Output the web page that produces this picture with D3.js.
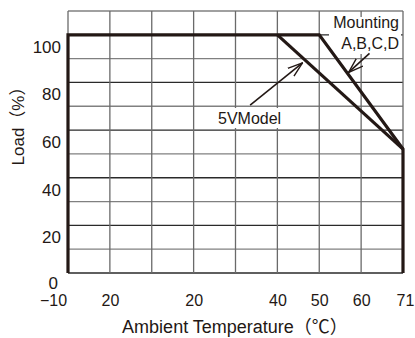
<!DOCTYPE html>
<html>
<head>
<meta charset="utf-8">
<script src="https://cdn.jsdelivr.net/npm/d3@7"></script>
<style>
  body { margin: 0; background: #fff; }
  svg { display: block; font-family: "Liberation Sans", Arial, "Noto Sans CJK JP", sans-serif; }
  text { fill: #231815; }
</style>
</head>
<body>
<div id="chart"></div>
<script>
// column labels of the temperature axis (the sheet prints them like this)
var xLabels = ["\u221210", "20", "", "20", "", "40", "50", "60", "71"];
var yLabels = [0, 20, 40, 60, 80, 100];
var yGrid = [0, 10, 20, 30, 40, 50, 60, 70, 80, 90, 100, 110];

// derating curves : column index and load (%)
var mountCols = [0, 0, 6, 8, 8];
var mountLoad = [0, 100, 100, 52, 0];
var v5Cols = [5, 8];
var v5Load = [100, 52];

var W = 415, H = 338;
var margin = {top: 11, right: 12, bottom: 65, left: 68};
var width = W - margin.left - margin.right;
var height = H - margin.top - margin.bottom;
var ink = "#231815";

var svg = d3.select("#chart").append("svg")
    .attr("width", W)
    .attr("height", H);

var g = svg.append("g")
    .attr("transform", "translate(" + margin.left + "," + margin.top + ")");

var x = d3.scalePoint()
    .domain(d3.range(xLabels.length))
    .range([0, width]);

var y = d3.scaleLinear()
    .domain([0, 110])
    .range([height, 0]);

// grid
g.selectAll(".hgrid").data(yGrid)
  .enter().append("line")
    .attr("class", "hgrid")
    .attr("x1", 0).attr("x2", width)
    .attr("y1", d => y(d)).attr("y2", d => y(d))
    .attr("stroke", d => (d % 20 == 0 ? "#2a2a2a" : "#808080"))
    .attr("stroke-width", 1.3);

g.selectAll(".vgrid").data(x.domain())
  .enter().append("line")
    .attr("class", "vgrid")
    .attr("x1", d => x(d)).attr("x2", d => x(d))
    .attr("y1", 0).attr("y2", height)
    .attr("stroke", "#6a6a6a")
    .attr("stroke-width", 1.3);

// axes (labels only)
var yAxis = d3.axisLeft(y).tickValues(yLabels).tickSize(0).tickPadding(7);
var yAxisG = g.append("g").call(yAxis);
yAxisG.select(".domain").remove();
yAxisG.selectAll("text")
    .attr("y", d => (d == 0 ? 10 : 12))
    .attr("x", d => (d == 0 ? -10 : -7))
    .style("font-size", "17px")
    .style("font-family", "inherit")
    .attr("fill", ink);

var xAxis = d3.axisBottom(x).tickFormat(i => xLabels[i]).tickSize(0).tickPadding(22);
var xAxisG = g.append("g")
    .attr("transform", "translate(0," + height + ")")
    .call(xAxis);
xAxisG.select(".domain").remove();
xAxisG.selectAll("text")
    .style("font-size", "16px")
    .style("font-family", "inherit")
    .attr("fill", ink)
    .attr("dx", (d, i) => (i == 0 ? -15 : (i == xLabels.length - 1 ? 2 : 0)));

// white boxes behind the notes
g.append("rect")
    .attr("x", 261).attr("y", 6)
    .attr("width", 72).attr("height", 37)
    .attr("fill", "#fff");
g.append("rect")
    .attr("x", 147).attr("y", 97)
    .attr("width", 71).attr("height", 20)
    .attr("fill", "#fff");

// curves
var line = d3.line()
    .x(d => x(d[0]))
    .y(d => y(d[1]));

g.append("path")
    .datum(d3.zip(mountCols, mountLoad))
    .attr("d", line)
    .attr("fill", "none")
    .attr("stroke", ink)
    .attr("stroke-width", 3.2)
    .attr("stroke-linejoin", "miter");

g.append("path")
    .datum(d3.zip(v5Cols, v5Load))
    .attr("d", line)
    .attr("fill", "none")
    .attr("stroke", ink)
    .attr("stroke-width", 3.2);

// arrow head
svg.append("defs").append("marker")
    .attr("id", "head")
    .attr("viewBox", "0 -6 16 12")
    .attr("refX", 15).attr("refY", 0)
    .attr("markerWidth", 16).attr("markerHeight", 12)
    .attr("markerUnits", "userSpaceOnUse")
    .attr("orient", "auto")
  .append("path")
    .attr("d", "M0,-5L15,0L0,5")
    .attr("fill", "none")
    .attr("stroke", ink)
    .attr("stroke-width", 1.4);

var arrows = [
  {from: [4.35, 70.5], to: [5.6, 88.2]},
  {from: [7.2, 92.2], to: [6.7, 84.2]}
];
g.selectAll(".arrow").data(arrows)
  .enter().append("line")
    .attr("class", "arrow")
    .attr("x1", d => x(0) + d.from[0] * x.step())
    .attr("y1", d => y(d.from[1]))
    .attr("x2", d => x(0) + d.to[0] * x.step())
    .attr("y2", d => y(d.to[1]))
    .attr("stroke", ink)
    .attr("stroke-width", 1.6)
    .attr("marker-end", "url(#head)");

// notes
g.append("text")
    .attr("x", 331).attr("y", 17)
    .attr("text-anchor", "end")
    .style("font-size", "16px")
    .text("Mounting");
g.append("text")
    .attr("x", 331).attr("y", 38)
    .attr("text-anchor", "end")
    .style("font-size", "16px")
    .text("A,B,C,D");
g.append("text")
    .attr("x", 150).attr("y", 113)
    .style("font-size", "16px")
    .text("5VModel");

// axis titles
svg.append("text")
    .attr("transform", "translate(24,122) rotate(-90)")
    .attr("text-anchor", "middle")
    .style("font-size", "17px")
    .text("Load\uFF08%\uFF09");

svg.append("text")
    .attr("x", 235).attr("y", 333)
    .attr("text-anchor", "middle")
    .style("font-size", "18px")
    .text("Ambient Temperature\uFF08\u2103\uFF09");
</script>
</body>
</html>
